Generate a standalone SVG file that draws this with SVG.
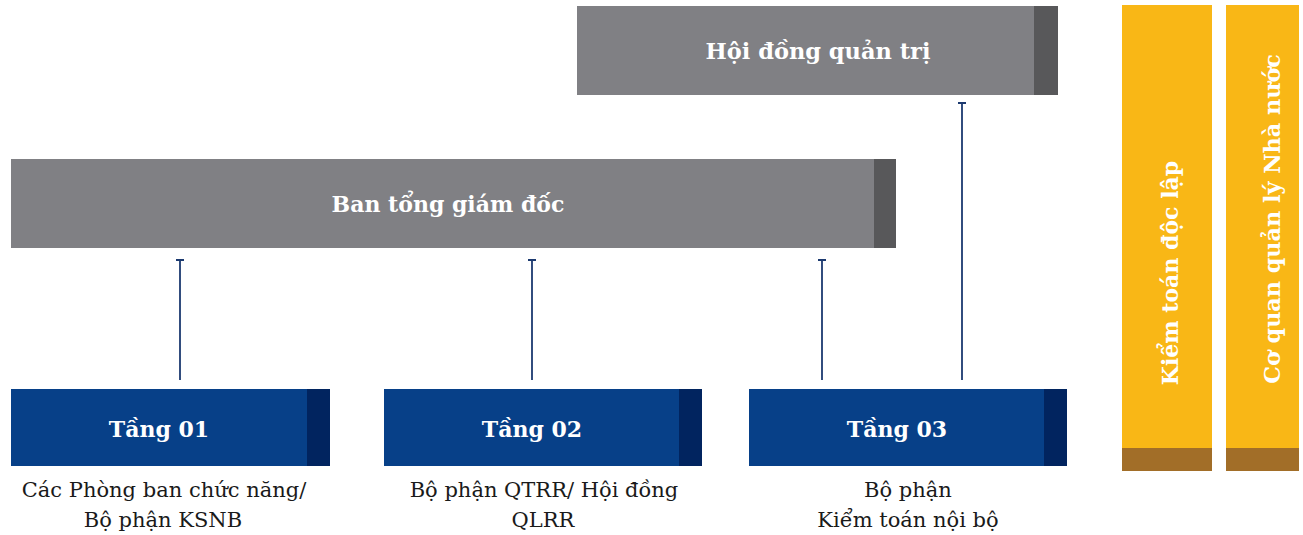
<svg xmlns="http://www.w3.org/2000/svg" width="1303" height="535" viewBox="0 0 1303 535">
<style>
.grey{fill:#808084}.greyd{fill:#58585a}
.blue{fill:#074088}.blued{fill:#01245f}
.yel{fill:#f9b716}.brn{fill:#a26e28}
.t{font-family:"DejaVu Serif","Liberation Serif",serif;font-weight:bold;fill:#ffffff;text-anchor:middle}
.l{font-family:"DejaVu Serif","Liberation Serif",serif;fill:#1a1a1a;text-anchor:middle;font-size:21px}
.c{stroke:#1c3a70;stroke-width:1.8;fill:none}
</style>
<rect width="1303" height="535" fill="#ffffff"/>
<g id="hdqt">
<rect class="grey" x="577" y="6" width="481" height="89"/>
<rect class="greyd" x="1034" y="6" width="24" height="89"/>
<text class="t" x="818" y="59" font-size="22.5">Hội đồng quản trị</text>
</g>
<g id="btgd">
<rect class="grey" x="11" y="159" width="885" height="89"/>
<rect class="greyd" x="874" y="159" width="22" height="89"/>
<text class="t" x="448" y="212" font-size="22">Ban tổng giám đốc</text>
</g>
<g id="tang01">
<rect class="blue" x="11" y="389" width="319" height="77"/>
<rect class="blued" x="307" y="389" width="23" height="77"/>
<text class="t" x="159" y="437" font-size="22">Tầng 01</text>
<text class="l" x="164" y="497">Các Phòng ban chức năng/</text>
<text class="l" x="163" y="527">Bộ phận KSNB</text>
</g>
<g id="tang02">
<rect class="blue" x="384" y="389" width="318" height="77"/>
<rect class="blued" x="679" y="389" width="23" height="77"/>
<text class="t" x="532" y="437" font-size="22">Tầng 02</text>
<text class="l" x="544" y="497">Bộ phận QTRR/ Hội đồng</text>
<text class="l" x="543" y="527">QLRR</text>
</g>
<g id="tang03">
<rect class="blue" x="749" y="389" width="318" height="77"/>
<rect class="blued" x="1044" y="389" width="23" height="77"/>
<text class="t" x="897" y="437" font-size="22">Tầng 03</text>
<text class="l" x="908" y="497">Bộ phận</text>
<text class="l" x="908" y="527">Kiểm toán nội bộ</text>
</g>
<g id="ktdl">
<rect class="yel" x="1122" y="5" width="90" height="466"/>
<rect class="brn" x="1122" y="448" width="90" height="23"/>
<text class="t" font-size="22" transform="translate(1178,273) rotate(-90)">Kiểm toán độc lập</text>
</g>
<g id="cqql">
<rect class="yel" x="1226" y="5" width="73" height="466"/>
<rect class="brn" x="1226" y="448" width="73" height="23"/>
<text class="t" font-size="22.3" transform="translate(1280,219) rotate(-90)">Cơ quan quản lý Nhà nước</text>
</g>
<g id="connectors">
<path class="c" d="M180 380V260M176 260H184"/>
<path class="c" d="M532 380V260M528 260H536"/>
<path class="c" d="M822 380V260M818 260H826"/>
<path class="c" d="M962 380V103M958 103H966"/>
</g>
</svg>
